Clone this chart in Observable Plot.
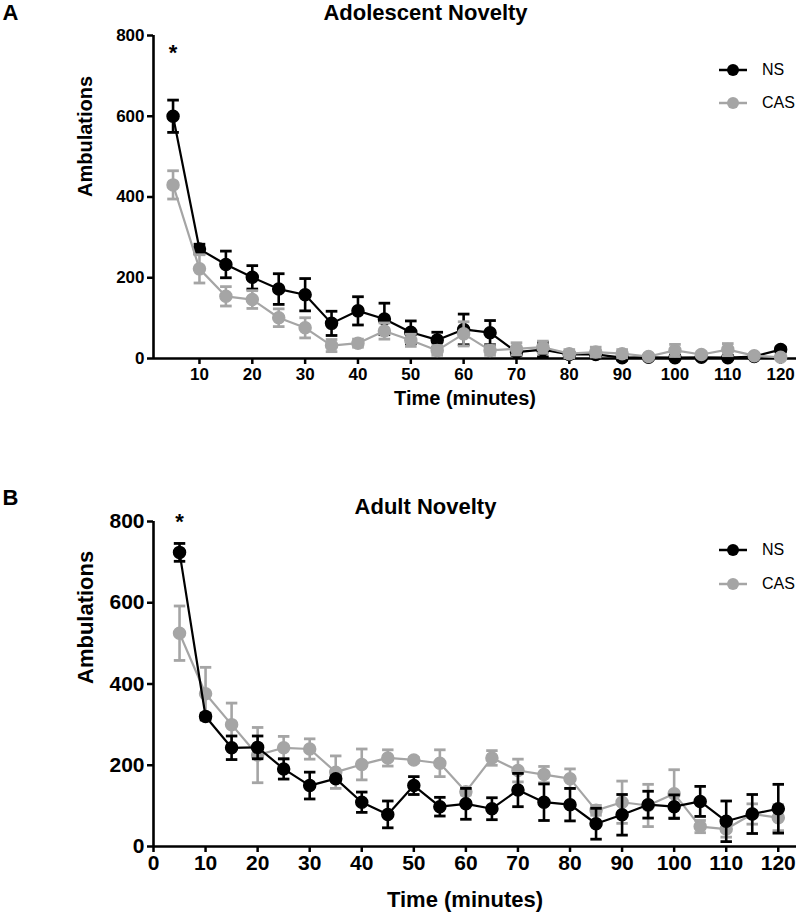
<!DOCTYPE html>
<html><head><meta charset="utf-8">
<script src="https://cdn.jsdelivr.net/npm/d3@7"></script>
<script src="https://cdn.jsdelivr.net/npm/@observablehq/plot@0.6"></script>
<style>
body{margin:0;background:#fff;font-family:"Liberation Sans",Arial,sans-serif;}
#wrap{position:relative;width:800px;height:913px;overflow:hidden;}
#wrap svg.panel{position:absolute;left:0;}
.leg{position:absolute;left:719px;font-size:16px;display:flex;align-items:center;height:20px;font-family:"Liberation Sans",Arial,sans-serif;}
.leg span{margin-left:15px;}
</style></head><body><div id="wrap"></div>
<script>
// ---- data ----
const time = [5,10,15,20,25,30,35,40,45,50,55,60,65,70,75,80,85,90,95,100,105,110,115,120];
const groups = ["NS","CAS"];
const groupColors = ["#000000","#a5a5a5"];

// Adolescent novelty
const adolNS     = [600,271,233,201,172,158,87,118,98,65,46,72,64,16,22,10,10,2,3,2,3,2,5,22];
const adolNSerr  = [40,12,33,29,38,40,30,35,39,28,19,38,30,8,18,6,8,6,4,5,5,5,4,6];
const adolCAS    = [430,222,154,146,101,76,32,38,68,45,20,61,20,24,28,12,16,12,5,20,10,22,7,3];
const adolCASerr = [35,35,24,22,22,25,15,10,20,15,12,30,12,15,15,10,12,10,4,15,6,15,5,4];

// Adult novelty
const adultNS     = [724,320,243,244,191,150,167,109,79,150,98,105,93,139,109,103,56,78,103,98,111,62,80,93];
const adultNSerr  = [22,8,29,28,25,33,6,25,33,22,23,38,27,41,45,40,38,50,33,29,37,50,48,60];
const adultCAS    = [525,376,300,225,243,240,183,202,218,213,205,135,218,187,177,167,89,109,101,130,49,43,80,71];
const adultCASerr = [67,65,53,68,28,25,40,38,20,6,33,8,18,28,20,24,12,52,52,59,15,20,25,32];

const yTicks = [0,200,400,600,800];
const xTicksAdol = [10,20,30,40,50,60,70,80,90,100,110,120];
const xTicksAdult = [0,10,20,30,40,50,60,70,80,90,100,110,120];
const sigTime = [5];
const sigLabel = "*";

function rows(vals, errs, g){ return time.map((t,i)=>({t, v: vals[i], e: errs[i], g})); }

function panel(o){
  const ns = rows(o.ns, o.nsErr, groups[0]);
  const cas = rows(o.cas, o.casErr, groups[1]);
  const order = o.nsOnTop ? [[cas,groupColors[1]],[ns,groupColors[0]]] : [[ns,groupColors[0]],[cas,groupColors[1]]];
  const seriesMarks = [];
  for (const [d,c] of order){
    seriesMarks.push(
      Plot.line(d, {x:"t", y:"v", stroke:c, strokeWidth:2.2}),
      Plot.ruleX(d, {x:"t", y1:r=>r.v-r.e, y2:r=>r.v+r.e, stroke:c, strokeWidth:2.6}),
      Plot.link(d, {x1:r=>r.t-1.1, x2:r=>r.t+1.1, y1:r=>r.v+r.e, y2:r=>r.v+r.e, stroke:c, strokeWidth:2.8}),
      Plot.link(d, {x1:r=>r.t-1.1, x2:r=>r.t+1.1, y1:r=>r.v-r.e, y2:r=>r.v-r.e, stroke:c, strokeWidth:2.8}),
      Plot.dot(d, {x:"t", y:"v", r:6, fill:c, stroke:c})
    );
  }
  const svg = Plot.plot({
    width: 800, height: o.height,
    marginTop: o.marginTop, marginBottom: o.marginBottom, marginLeft: 153, marginRight: 4,
    style: {fontFamily:"Liberation Sans, Arial, sans-serif", fontSize: o.tickFont+"px", fontWeight:"bold", color:"#000", background:"#fff"},
    x: {domain: o.xDomain},
    y: {domain: [0,800]},
    marks: [
      Plot.axisX({ticks: o.xTicks, tickSize:6, tickPadding:3, strokeWidth:2.5, label:null, fontSize:o.tickFont, fontWeight:"bold"}),
      Plot.axisY({ticks: yTicks, tickSize:6, tickPadding:3, strokeWidth:2.5, label:null, fontSize:o.tickFont, fontWeight:"bold"}),
      Plot.ruleY([0], {x1:o.xDomain[0], x2:o.xDomain[1], strokeWidth:2.6}),
      Plot.ruleX([o.xDomain[0]], {y1:0, y2:800, strokeWidth:2.6}),
      ...seriesMarks,
      Plot.text(sigTime, {x:d=>d, y:o.starY, text:()=>sigLabel, fontSize:22, fontWeight:"bold"}),
      Plot.text([o.title], {frameAnchor:"top-left", dx:272, dy:o.titleDy, lineAnchor:"middle", text:d=>d, fontSize:22, fontWeight:"bold", textAnchor:"middle"}),
      Plot.text([o.letter], {frameAnchor:"top-left", dx:-151, dy:o.letterDy, lineAnchor:"middle", text:d=>d, fontSize:22, fontWeight:"bold", textAnchor:"start"}),
      Plot.text(["Ambulations"], {frameAnchor:"left", dx:-68, lineAnchor:"middle", text:d=>d, rotate:-90, fontSize:o.labelFont, fontWeight:"bold"}),
      Plot.text(["Time (minutes)"], {frameAnchor:"bottom", dx:o.xLabelDx, dy:o.xLabelDy, lineAnchor:"middle", text:d=>d, fontSize:o.labelFont, fontWeight:"bold"})
    ]
  });
  svg.classList.add("panel");
  svg.style.top = o.top + "px";
  return svg;
}

const wrap = document.getElementById("wrap");
wrap.appendChild(panel({
  title:"Adolescent Novelty", letter:"A", ns:adolNS, nsErr:adolNSerr, cas:adolCAS, casErr:adolCASerr,
  xDomain:[1.3,123], xTicks:xTicksAdol, height:456, marginTop:35, marginBottom:98, top:0,
  tickFont:17, labelFont:20, titleDy:-23, letterDy:-23, xLabelDx:-10, xLabelDy:40, nsOnTop:false, starY:757
}));
wrap.appendChild(panel({
  title:"Adult Novelty", letter:"B", ns:adultNS, nsErr:adultNSerr, cas:adultCAS, casErr:adultCASerr,
  xDomain:[0,123.5], xTicks:xTicksAdult, height:457, marginTop:65, marginBottom:67, top:456,
  tickFont:21, labelFont:22, titleDy:-15, letterDy:-24, xLabelDx:-10, xLabelDy:53, nsOnTop:true, starY:800
}));

// legends
const legendRows = [[70,0],[103,1],[550,0],[584,1]];
for (const [y,gi] of legendRows){
  const div = document.createElement("div");
  div.className = "leg";
  div.style.top = (y-10) + "px";
  const c = groupColors[gi];
  div.innerHTML = `<svg width="28" height="14"><line x1="0" y1="7" x2="28" y2="7" stroke="${c}" stroke-width="2.5"/><circle cx="14" cy="7" r="6" fill="${c}"/></svg><span>${groups[gi]}</span>`;
  wrap.appendChild(div);
}
</script></body></html>
